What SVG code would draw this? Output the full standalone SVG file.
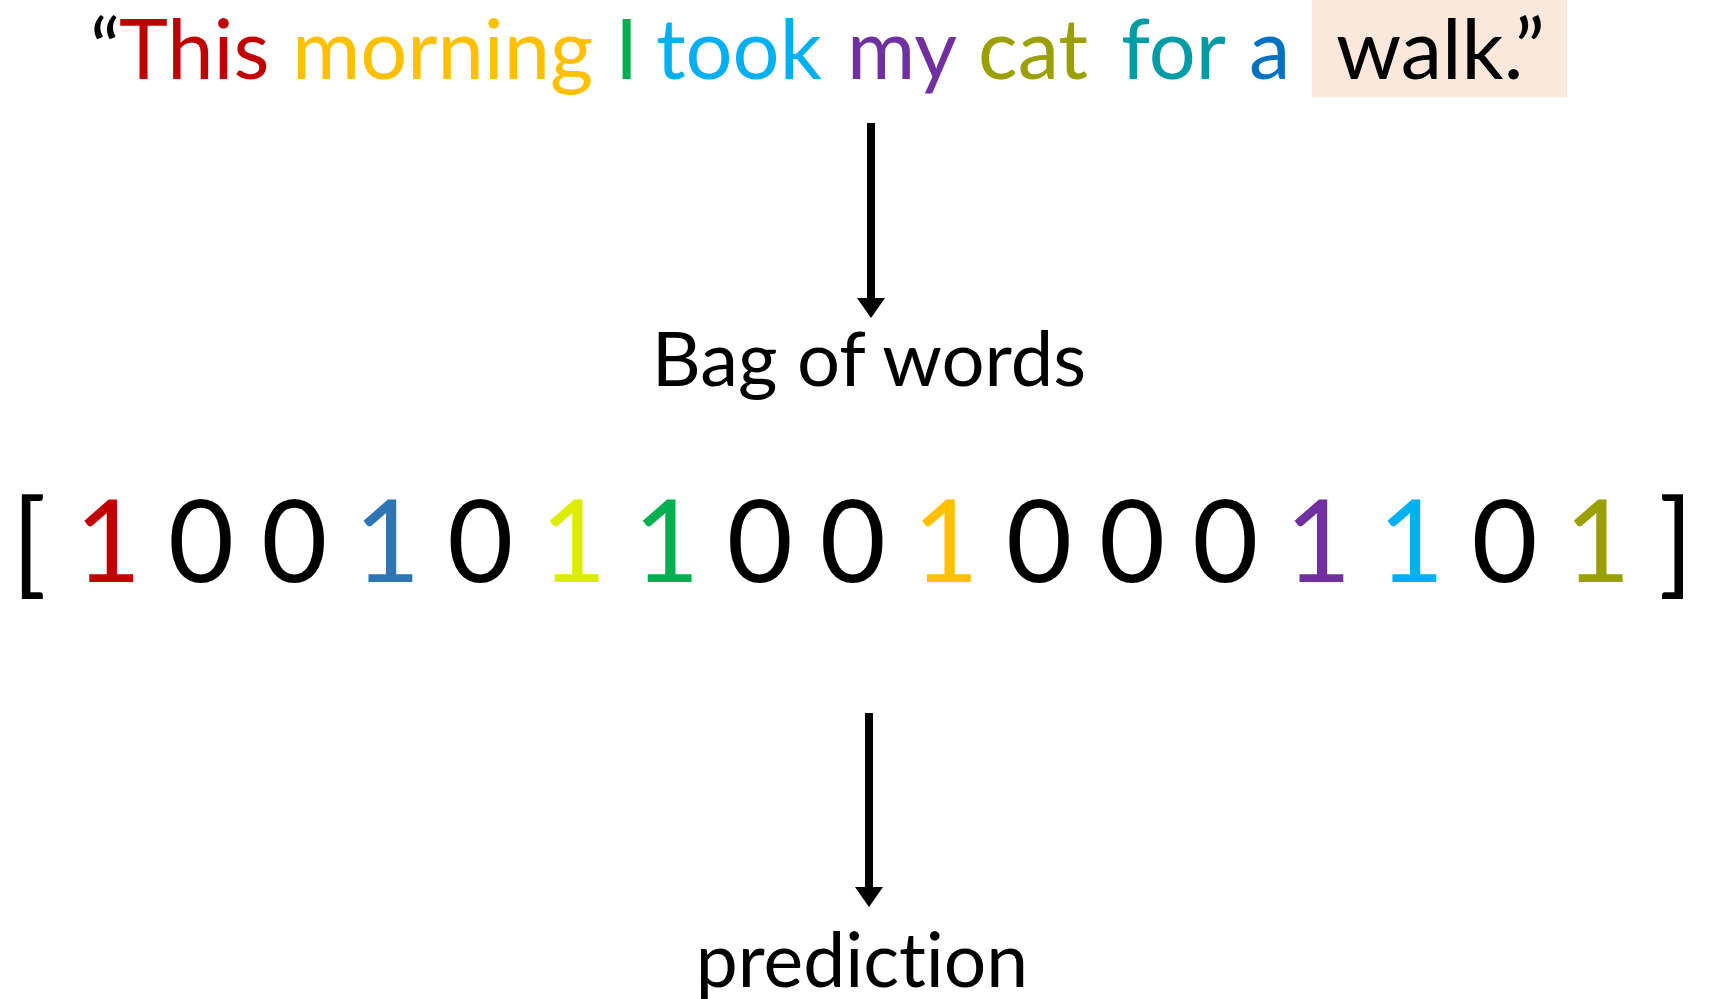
<svg xmlns="http://www.w3.org/2000/svg" width="1719" height="999" viewBox="0 0 1719 999">
<style>
text { font-family: Lato, "Noto Sans", "Liberation Sans", sans-serif; font-variant-ligatures: none; font-feature-settings: "liga" 0, "clig" 0; }
.top { font-size: 83px; }
.lbl { font-size: 76px; fill: #000; text-anchor: middle; }
.vec { font-size: 114px; fill: #000; text-anchor: middle; }
.conn line { stroke: #000; stroke-width: 8; }
.conn polygon { fill: #000; }
</style>
<rect width="1719" height="999" fill="#fff"/>
<g id="sentence">
<rect x="1312" y="0" width="255" height="97" fill="#FBE8DD"/>
<text class="top" y="79">
<tspan x="90" fill="#000">“</tspan><tspan x="119" fill="#C00000">This</tspan><tspan x="292" fill="#FFC000">morning</tspan><tspan x="615" fill="#00B050">I</tspan><tspan x="656" fill="#00B0F0">took</tspan><tspan x="847" fill="#7030A0">my</tspan><tspan x="978" fill="#99A000">cat</tspan><tspan x="1121" fill="#009CA6">for</tspan><tspan x="1249" fill="#0070C0">a</tspan><tspan x="1336" fill="#000">walk.”</tspan>
</text>
</g>
<g id="bag">
<text class="lbl" x="869" y="386">Bag of words</text>
</g>
<g id="vector">
<text class="vec" y="582"><tspan x="29">[</tspan><tspan x="108" fill="#C00000">1</tspan><tspan x="201.1">0</tspan><tspan x="294.2">0</tspan><tspan x="387.3" fill="#2E75B6">1</tspan><tspan x="480.4">0</tspan><tspan x="573.5" fill="#DDED00">1</tspan><tspan x="666.6" fill="#00B050">1</tspan><tspan x="759.7">0</tspan><tspan x="852.8">0</tspan><tspan x="945.9" fill="#FFC000">1</tspan><tspan x="1039">0</tspan><tspan x="1132.1">0</tspan><tspan x="1225.2">0</tspan><tspan x="1318.3" fill="#7030A0">1</tspan><tspan x="1411.4" fill="#00B0F0">1</tspan><tspan x="1504.5">0</tspan><tspan x="1597.6" fill="#99A000">1</tspan><tspan x="1676">]</tspan></text>
</g>
<g id="prediction">
<text class="lbl" x="862" y="987" style="font-size:75px">prediction</text>
</g>
<g class="conn" id="connectors">
<line x1="871" y1="123" x2="871" y2="300"/>
<polygon points="857,298 885,298 871,318"/>
<line x1="869" y1="713" x2="869" y2="889"/>
<polygon points="855,887 883,887 869,907"/>
</g>
</svg>
